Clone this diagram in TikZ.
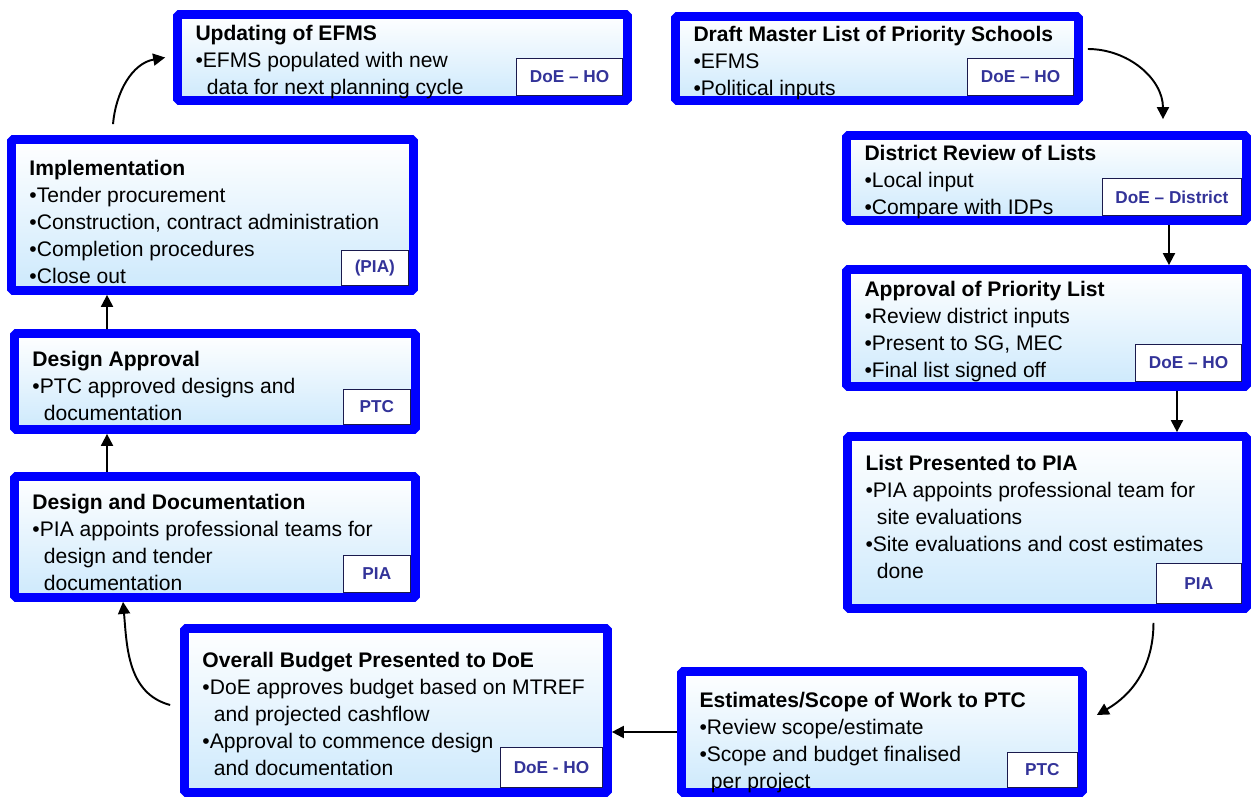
\documentclass[tikz,border=0pt]{standalone}
\usepackage{fontspec}
\setmainfont{Liberation Sans}
\usetikzlibrary{arrows.meta,positioning}
\definecolor{efblue}{HTML}{0000FF}
\definecolor{efsky}{HTML}{CDE9FC}
\definecolor{efmid}{HTML}{EAF5FE}
\definecolor{eftag}{HTML}{333399}
\definecolor{efline}{HTML}{1A1A4D}

\begin{document}
\begin{tikzpicture}[x=0.02cm,y=0.02cm,
  every node/.style={font=\fontsize{12}{15.3}\selectfont},
  stage/.style={draw=efblue,line width=5pt,rounded corners=1pt,top color=white,middle color=efmid,bottom color=efsky,inner sep=0pt},
  txt/.style={anchor=north west,align=left,inner sep=0pt},
  tag/.style={draw=efline,line width=0.6pt,fill=white,anchor=south east,minimum width=1.34cm,minimum height=0.74cm,inner xsep=0.26cm,inner ysep=0pt,font=\fontsize{9.8}{11}\selectfont\bfseries,text=eftag},
  flow/.style={-{Triangle[length=2.4mm,width=2.4mm]},line width=1.1pt}
]
\useasboundingbox (0,0) rectangle (1252,-797);

\node[stage,minimum width=9.00cm,minimum height=1.72cm] (upd) at (402.5,-57.5) {};
\node[stage,minimum width=8.06cm,minimum height=1.68cm] (draft) at (877,-58.5) {};
\node[stage,minimum width=8.00cm,minimum height=1.70cm] (dist) at (1046.5,-178) {};
\node[stage,minimum width=8.00cm,minimum height=2.34cm] (appr) at (1046.5,-328) {};
\node[stage,minimum width=7.98cm,minimum height=3.44cm] (list) at (1047,-522.5) {};
\node[stage,minimum width=8.02cm,minimum height=2.42cm] (est) at (882,-732) {};
\node[stage,minimum width=8.46cm,minimum height=3.28cm] (budget) at (396,-710.5) {};
\node[stage,minimum width=8.02cm,minimum height=2.42cm] (ddoc) at (215,-537) {};
\node[stage,minimum width=8.02cm,minimum height=1.92cm] (dapp) at (215,-381.5) {};
\node[stage,minimum width=8.04cm,minimum height=3.02cm] (impl) at (212.5,-215) {};

\node[txt] (upd-t) at ([xshift=0.44cm,yshift=-0.30cm]upd.north west)
  {\textbf{Updating of EFMS}\\•EFMS populated with new\\\hspace*{0.23cm}data for next planning cycle};
\node[txt] (draft-t) at ([xshift=0.44cm,yshift=-0.28cm]draft.north west)
  {\textbf{Draft Master List of Priority Schools}\\•EFMS\\•Political inputs};
\node[txt] (dist-t) at ([xshift=0.44cm,yshift=-0.28cm]dist.north west)
  {\textbf{District Review of Lists}\\•Local input\\•Compare with IDPs};
\node[txt] (appr-t) at ([xshift=0.44cm,yshift=-0.32cm]appr.north west)
  {\textbf{Approval of Priority List}\\•Review district inputs\\•Present to SG, MEC\\•Final list signed off};
\node[txt] (list-t) at ([xshift=0.44cm,yshift=-0.46cm]list.north west)
  {\textbf{List Presented to PIA}\\•PIA appoints professional team for\\\hspace*{0.23cm}site evaluations\\•Site evaluations and cost estimates\\\hspace*{0.23cm}done};
\node[txt] (est-t) at ([xshift=0.44cm,yshift=-0.50cm]est.north west)
  {\textbf{Estimates/Scope of Work to PTC}\\•Review scope/estimate\\•Scope and budget finalised\\\hspace*{0.23cm}per project};
\node[txt] (budget-t) at ([xshift=0.44cm,yshift=-0.56cm]budget.north west)
  {\textbf{Overall Budget Presented to DoE}\\•DoE approves budget based on MTREF\\\hspace*{0.23cm}and projected cashflow\\•Approval to commence design\\\hspace*{0.23cm}and documentation};
\node[txt] (ddoc-t) at ([xshift=0.44cm,yshift=-0.44cm]ddoc.north west)
  {\textbf{Design and Documentation}\\•PIA appoints professional teams for\\\hspace*{0.23cm}design and tender\\\hspace*{0.23cm}documentation};
\node[txt] (dapp-t) at ([xshift=0.44cm,yshift=-0.44cm]dapp.north west)
  {\textbf{Design Approval}\\•PTC approved designs and\\\hspace*{0.23cm}documentation};
\node[txt] (impl-t) at ([xshift=0.44cm,yshift=-0.50cm]impl.north west)
  {\textbf{Implementation}\\•Tender procurement\\•Construction, contract administration\\•Completion procedures\\•Close out};

\node[tag] (upd-r) at ([xshift=-0.18cm,yshift=0.18cm]upd.south east) {DoE – HO};
\node[tag] (draft-r) at ([xshift=-0.18cm,yshift=0.18cm]draft.south east) {DoE – HO};
\node[tag] (dist-r) at ([xshift=-0.18cm,yshift=0.18cm]dist.south east) {DoE – District};
\node[tag] (appr-r) at ([xshift=-0.18cm,yshift=0.18cm]appr.south east) {DoE – HO};
\node[tag,minimum width=1.7cm,minimum height=0.8cm] (list-r) at ([xshift=-0.18cm,yshift=0.18cm]list.south east) {PIA};
\node[tag,minimum width=1.4cm,minimum height=0.7cm] (est-r) at ([xshift=-0.18cm,yshift=0.18cm]est.south east) {PTC};
\node[tag,minimum height=0.8cm] (budget-r) at ([xshift=-0.18cm,yshift=0.18cm]budget.south east) {DoE - HO};
\node[tag] (ddoc-r) at ([xshift=-0.18cm,yshift=0.18cm]ddoc.south east) {PIA};
\node[tag,minimum height=0.7cm] (dapp-r) at ([xshift=-0.18cm,yshift=0.18cm]dapp.south east) {PTC};
\node[tag,minimum height=0.7cm] (impl-r) at ([xshift=-0.18cm,yshift=0.18cm]impl.south east) {(PIA)};

\draw[flow] ([xshift=0.1cm,yshift=0.19cm]draft.east) to[out=0,in=90] ([xshift=2.33cm,yshift=0.24cm]dist.north);
\draw[flow] ([xshift=2.45cm]dist.south) -- ([xshift=2.45cm]appr.north);
\draw[flow] ([xshift=2.61cm]appr.south) -- ([xshift=2.6cm]list.north);
\draw[flow] ([xshift=2.13cm,yshift=-0.2cm]list.south) to[out=-90,in=30] ([xshift=0.2cm,yshift=0.34cm]est.east);
\draw[flow] (est.west) -- (est.west -| budget.east);
\draw[flow] ([xshift=-0.2cm,yshift=0.11cm]budget.west) to[out=165,in=-85] ([xshift=-1.84cm]ddoc.south);
\draw[flow] ([xshift=-2.16cm]ddoc.north) -- ([xshift=-2.16cm]dapp.south);
\draw[flow] ([xshift=-2.16cm]dapp.north) -- ([xshift=-2.11cm]impl.south);
\draw[flow] ([xshift=-1.99cm,yshift=0.22cm]impl.north) to[out=85,in=190] ([xshift=-0.16cm]upd.west);
\end{tikzpicture}
\end{document}
